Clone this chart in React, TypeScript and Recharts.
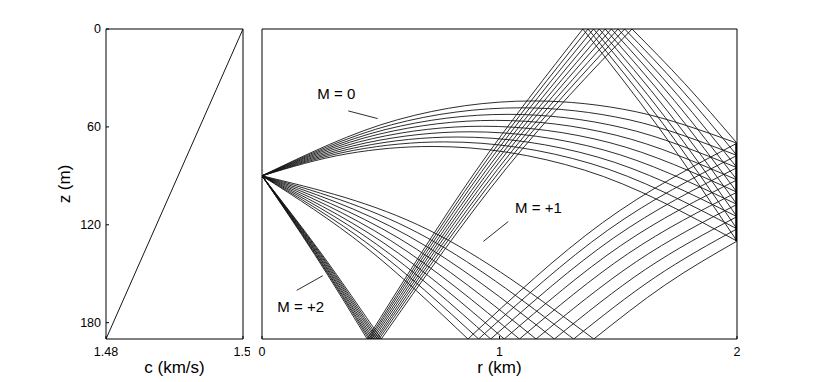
import { Line, LineChart, ReferenceDot, ReferenceLine, XAxis, YAxis } from "recharts";

type Pt = [number, number];

const FONT = '"Liberation Sans", Arial, Helvetica, sans-serif';
const INK = "#151515";

// left panel: sound speed profile c(z)
const profileSpeed = [1.48, 1.5];
const profileDepth = [190, 0];
const speedTicks = [1.48, 1.5];
const depthTicks = [0, 60, 120, 180];
const rangeTicks = [0, 1, 2];

// vertical receiver array at r = 2 km
const receiverDepths = [70, 77.5, 85, 92.5, 100, 107.5, 115, 122.5, 130];

// M = 0 : refracted rays, no boundary contact  [r km, z m]
const m0Rays: Pt[][] = [
  [[0, 90], [0.571, 55.6], [1.142, 44.1], [1.571, 50.6], [2, 70]],
  [[0, 90], [0.545, 58.7], [1.089, 48.3], [1.545, 55.6], [2, 77.5]],
  [[0, 90], [0.518, 61.7], [1.036, 52.3], [1.518, 60.5], [2, 85]],
  [[0, 90], [0.491, 64.5], [0.982, 56.0], [1.491, 65.1], [2, 92.5]],
  [[0, 90], [0.465, 67.2], [0.929, 59.6], [1.465, 69.7], [2, 100]],
  [[0, 90], [0.438, 69.8], [0.876, 63.0], [1.438, 74.1], [2, 107.5]],
  [[0, 90], [0.411, 72.2], [0.822, 66.2], [1.411, 78.4], [2, 115]],
  [[0, 90], [0.385, 74.4], [0.769, 69.2], [1.385, 82.5], [2, 122.5]],
  [[0, 90], [0.358, 76.5], [0.716, 72.0], [1.358, 86.5], [2, 130]],
];

// M = +1 : one bottom bounce
const m1Down: Pt[][] = [
  [[0, 90], [0.434, 133.4], [0.867, 190]],
  [[0, 90], [0.456, 132.7], [0.912, 190]],
  [[0, 90], [0.481, 131.8], [0.963, 190]],
  [[0, 90], [0.51, 130.9], [1.02, 190]],
  [[0, 90], [0.542, 129.7], [1.084, 190]],
  [[0, 90], [0.577, 128.3], [1.154, 190]],
  [[0, 90], [0.615, 126.7], [1.231, 190]],
  [[0, 90], [0.656, 124.9], [1.312, 190]],
  [[0, 90], [0.698, 122.9], [1.397, 190]],
];
const m1Up: Pt[][] = [
  [[0.867, 190], [1.434, 118.7], [2, 70]],
  [[0.912, 190], [1.456, 123.3], [2, 77.5]],
  [[0.963, 190], [1.481, 128.0], [2, 85]],
  [[1.02, 190], [1.51, 132.8], [2, 92.5]],
  [[1.084, 190], [1.542, 137.6], [2, 100]],
  [[1.154, 190], [1.577, 142.5], [2, 107.5]],
  [[1.231, 190], [1.615, 147.3], [2, 115]],
  [[1.312, 190], [1.656, 152.1], [2, 122.5]],
  [[1.397, 190], [1.698, 156.8], [2, 130]],
];

// M = +2 : bottom bounce, surface bounce
const m2Down: Pt[][] = [
  [[0, 90], [0.251, 137.8], [0.502, 190]],
  [[0, 90], [0.247, 137.9], [0.493, 190]],
  [[0, 90], [0.243, 137.9], [0.485, 190]],
  [[0, 90], [0.239, 138.0], [0.478, 190]],
  [[0, 90], [0.235, 138.1], [0.47, 190]],
  [[0, 90], [0.232, 138.1], [0.463, 190]],
  [[0, 90], [0.228, 138.2], [0.456, 190]],
  [[0, 90], [0.225, 138.2], [0.45, 190]],
  [[0, 90], [0.222, 138.3], [0.443, 190]],
];
const m2Up: Pt[][] = [
  [[0.502, 190], [1.03, 85.2], [1.558, 0]],
  [[0.493, 190], [1.01, 85.6], [1.527, 0]],
  [[0.485, 190], [0.992, 86.0], [1.499, 0]],
  [[0.478, 190], [0.974, 86.3], [1.471, 0]],
  [[0.47, 190], [0.958, 86.6], [1.445, 0]],
  [[0.463, 190], [0.942, 86.9], [1.42, 0]],
  [[0.456, 190], [0.926, 87.2], [1.396, 0]],
  [[0.45, 190], [0.911, 87.5], [1.373, 0]],
  [[0.443, 190], [0.897, 87.7], [1.351, 0]],
];
const m2Back: Pt[][] = [
  [[1.558, 0], [1.779, 33.3], [2, 70]],
  [[1.527, 0], [1.764, 36.8], [2, 77.5]],
  [[1.499, 0], [1.749, 40.3], [2, 85]],
  [[1.471, 0], [1.736, 43.8], [2, 92.5]],
  [[1.445, 0], [1.723, 47.3], [2, 100]],
  [[1.42, 0], [1.71, 50.8], [2, 107.5]],
  [[1.396, 0], [1.698, 54.2], [2, 115]],
  [[1.373, 0], [1.687, 57.8], [2, 122.5]],
  [[1.351, 0], [1.675, 61.3], [2, 130]],
];

// annotations
const modeLabels = [
  { text: "M = 0", r: 0.313, z: 39.7 },
  { text: "M = +1", r: 1.164, z: 109.6 },
  { text: "M = +2", r: 0.163, z: 170.0 },
];
const modeLeaders: [Pt, Pt][] = [
  [[0.363, 50.2], [0.487, 54.9]],
  [[0.932, 130.2], [1.037, 118.0]],
  [[0.146, 160.2], [0.256, 151.2]],
];

const raySegments = [...m0Rays, ...m1Down, ...m1Up, ...m2Down, ...m2Up, ...m2Back];
const profileData = profileSpeed.map((c, i) => ({ c, z: profileDepth[i] }));
const receiverData = receiverDepths.map((z) => ({ r: 2, z }));

const tickStyle = { fill: "#000", fontSize: 12.5, fontFamily: FONT };
const lineStyle = { stroke: "#000" };

function ProfilePanel() {
  return (
    <LineChart width={250} height={382} data={profileData} margin={{ top: 28, right: 6, bottom: 0, left: 0 }}>
      <XAxis
        xAxisId="b"
        dataKey="c"
        type="number"
        domain={[1.48, 1.5]}
        ticks={speedTicks}
        allowDataOverflow
        height={43}
        tickSize={-3}
        tickMargin={11}
        tick={tickStyle}
        axisLine={lineStyle}
        tickLine={lineStyle}
        label={{ value: "c (km/s)", position: "insideBottom", offset: 9, fill: "#000", fontSize: 17 }}
      />
      <XAxis
        xAxisId="t"
        orientation="top"
        type="number"
        domain={[1.48, 1.5]}
        ticks={speedTicks}
        allowDataOverflow
        height={1}
        tickSize={-3}
        tick={false}
        axisLine={lineStyle}
        tickLine={lineStyle}
      />
      <YAxis
        yAxisId="l"
        type="number"
        domain={[0, 190]}
        reversed
        ticks={depthTicks}
        allowDataOverflow
        width={106}
        tickSize={-3}
        tickMargin={8}
        tick={tickStyle}
        axisLine={lineStyle}
        tickLine={lineStyle}
        label={{
          value: "z (m)",
          angle: -90,
          position: "insideLeft",
          offset: 64,
          fill: "#000",
          fontSize: 17,
          style: { textAnchor: "middle" },
        }}
      />
      <YAxis
        yAxisId="r"
        orientation="right"
        type="number"
        domain={[0, 190]}
        reversed
        ticks={depthTicks}
        allowDataOverflow
        width={1}
        tickSize={-3}
        tick={false}
        axisLine={lineStyle}
        tickLine={lineStyle}
      />
      <Line
        xAxisId="b"
        yAxisId="l"
        dataKey="z"
        type="linear"
        stroke={INK}
        strokeWidth={1}
        dot={false}
        activeDot={false}
        isAnimationActive={false}
      />
    </LineChart>
  );
}

function RayPanel() {
  return (
    <LineChart width={567} height={382} margin={{ top: 28, right: 79, bottom: 0, left: 11 }}>
      <XAxis
        xAxisId="b"
        dataKey="r"
        type="number"
        domain={[0, 2]}
        ticks={rangeTicks}
        allowDataOverflow
        height={43}
        tickSize={-3}
        tickMargin={11}
        tick={tickStyle}
        axisLine={lineStyle}
        tickLine={lineStyle}
        label={{ value: "r (km)", position: "insideBottom", offset: 9, fill: "#000", fontSize: 17 }}
      />
      <XAxis
        xAxisId="t"
        orientation="top"
        type="number"
        domain={[0, 2]}
        ticks={rangeTicks}
        allowDataOverflow
        height={1}
        tickSize={-3}
        tick={false}
        axisLine={lineStyle}
        tickLine={lineStyle}
      />
      <YAxis
        yAxisId="l"
        type="number"
        domain={[0, 190]}
        reversed
        allowDataOverflow
        width={1}
        tick={false}
        tickLine={false}
        axisLine={lineStyle}
      />
      <YAxis
        yAxisId="r"
        orientation="right"
        type="number"
        domain={[0, 190]}
        reversed
        allowDataOverflow
        width={1}
        tick={false}
        tickLine={false}
        axisLine={lineStyle}
      />
      {raySegments.map((seg, i) => (
        <Line
          key={i}
          xAxisId="b"
          yAxisId="l"
          data={seg.map(([r, z]) => ({ r, z }))}
          dataKey="z"
          type="monotone"
          stroke={INK}
          strokeWidth={0.9}
          dot={false}
          activeDot={false}
          isAnimationActive={false}
        />
      ))}
      <Line
        xAxisId="b"
        yAxisId="l"
        data={receiverData}
        dataKey="z"
        type="linear"
        stroke="#000"
        strokeWidth={3.5}
        dot={false}
        activeDot={false}
        isAnimationActive={false}
      />
      {modeLeaders.map(([a, b], i) => (
        <ReferenceLine
          key={"ld" + i}
          xAxisId="b"
          yAxisId="l"
          segment={[
            { x: a[0], y: a[1] },
            { x: b[0], y: b[1] },
          ]}
          stroke={INK}
          strokeWidth={0.9}
        />
      ))}
      {modeLabels.map((m) => (
        <ReferenceDot
          key={m.text}
          xAxisId="b"
          yAxisId="l"
          x={m.r}
          y={m.z}
          r={0}
          fill="none"
          stroke="none"
          label={{ value: m.text, position: "center", fill: "#000", fontSize: 15 }}
        />
      ))}
    </LineChart>
  );
}

export default function App() {
  return (
    <div
      style={{
        position: "absolute",
        left: 0,
        top: 0,
        width: 817,
        height: 382,
        background: "#fff",
        fontFamily: FONT,
      }}
    >
      <div style={{ position: "absolute", left: 0, top: 0 }}>
        <ProfilePanel />
      </div>
      <div style={{ position: "absolute", left: 250, top: 0 }}>
        <RayPanel />
      </div>
    </div>
  );
}
